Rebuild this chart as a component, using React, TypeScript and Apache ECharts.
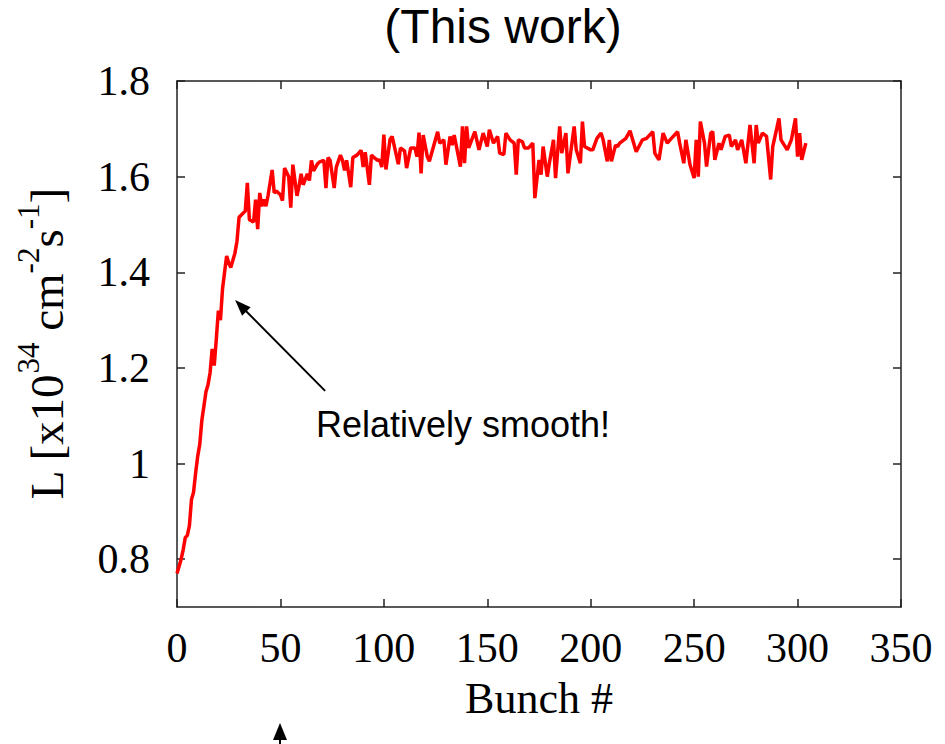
import React, { useEffect, useRef } from "react";
import * as echarts from "echarts";

// Bunch number (x) and luminosity L [x10^34 cm^-2 s^-1] (y)
const bunches: number[] = [
  0, 2, 3, 4, 5, 6, 7, 8, 9, 10, 11, 12, 13, 14, 15, 16, 17, 18, 19, 20,
  21, 22, 23, 24, 25, 26, 28, 29, 30, 33, 34, 35, 37, 38, 39, 40, 41, 42, 43, 44,
  46, 47, 48, 50, 51, 52, 54, 55, 56, 58, 59, 60, 61, 63, 64, 65, 66, 68, 69, 71,
  72, 73, 74, 76, 77, 79, 80, 81, 82, 84, 85, 87, 89, 90, 91, 93, 94, 95, 97, 98,
  99, 100, 101, 103, 104, 105, 107, 108, 110, 111, 113, 115, 116, 117, 118, 119, 121, 122, 124, 126,
  127, 129, 130, 132, 133, 134, 137, 138, 139, 140, 141, 144, 146, 148, 150, 151, 153, 155, 156, 158,
  159, 161, 163, 164, 165, 167, 168, 170, 172, 173, 175, 176, 177, 179, 180, 182, 183, 185, 186, 188,
  189, 192, 193, 195, 196, 197, 200, 201, 203, 205, 206, 208, 209, 210, 212, 213, 214, 217, 219, 222,
  225, 227, 230, 231, 233, 235, 237, 239, 242, 243, 245, 246, 248, 250, 251, 252, 253, 255, 256, 258,
  259, 260, 262, 263, 265, 267, 268, 270, 271, 273, 275, 277, 279, 280, 281, 283, 285, 287, 288, 291,
  292, 295, 297, 299, 300, 301, 302, 304,
];
const luminosity: number[] = [
  0.77, 0.80, 0.82, 0.845, 0.85, 0.87, 0.925, 0.94, 0.98, 1.015, 1.04, 1.09, 1.12, 1.15, 1.165, 1.19, 1.24, 1.205, 1.26, 1.32,
  1.30, 1.365, 1.40, 1.434, 1.42, 1.41, 1.44, 1.465, 1.515, 1.528, 1.587, 1.51, 1.505, 1.552, 1.49, 1.566, 1.538, 1.552, 1.538, 1.56,
  1.614, 1.566, 1.57, 1.562, 1.55, 1.618, 1.60, 1.535, 1.625, 1.56, 1.58, 1.606, 1.583, 1.606, 1.592, 1.634, 1.612, 1.627, 1.631, 1.634,
  1.576, 1.64, 1.634, 1.576, 1.62, 1.645, 1.634, 1.613, 1.634, 1.578, 1.64, 1.645, 1.655, 1.62, 1.651, 1.583, 1.645, 1.641, 1.634, 1.635,
  1.62, 1.688, 1.615, 1.678, 1.684, 1.665, 1.626, 1.66, 1.654, 1.618, 1.66, 1.66, 1.642, 1.692, 1.607, 1.687, 1.642, 1.632, 1.663, 1.694,
  1.67, 1.677, 1.625, 1.684, 1.666, 1.687, 1.621, 1.705, 1.628, 1.705, 1.66, 1.694, 1.656, 1.691, 1.663, 1.698, 1.67, 1.684, 1.649, 1.646,
  1.691, 1.677, 1.67, 1.604, 1.677, 1.673, 1.66, 1.66, 1.67, 1.555, 1.635, 1.604, 1.663, 1.60, 1.628, 1.677, 1.597, 1.705, 1.649, 1.691,
  1.607, 1.705, 1.656, 1.628, 1.715, 1.663, 1.656, 1.656, 1.68, 1.691, 1.677, 1.632, 1.677, 1.632, 1.666, 1.663, 1.67, 1.68, 1.696, 1.652,
  1.677, 1.68, 1.694, 1.649, 1.635, 1.691, 1.67, 1.68, 1.694, 1.67, 1.628, 1.677, 1.625, 1.597, 1.677, 1.60, 1.715, 1.67, 1.621, 1.691,
  1.694, 1.635, 1.67, 1.656, 1.684, 1.687, 1.663, 1.677, 1.656, 1.677, 1.628, 1.708, 1.628, 1.708, 1.67, 1.691, 1.684, 1.594, 1.663, 1.722,
  1.677, 1.656, 1.677, 1.722, 1.642, 1.691, 1.635, 1.67,
];

const xTicks: number[] = [0, 50, 100, 150, 200, 250, 300, 350];
const yTicks: number[] = [0.8, 1.0, 1.2, 1.4, 1.6, 1.8];

const titleText = "(This work)";
const xName = "Bunch #";
const annotationText = "Relatively smooth!";
// annotation arrow: tail and head in data coordinates
const arrowTail: [number, number] = [71.6, 1.152];
const arrowHead: [number, number] = [30.8, 1.33];

const SERIF = "'Liberation Serif', 'Times New Roman', serif";
const SANS = "'Liberation Sans', Arial, sans-serif";

export default function App() {
  const ref = useRef<HTMLDivElement>(null);

  useEffect(() => {
    if (!ref.current) return;
    const chart = echarts.init(ref.current, null, { renderer: "svg" });

    const data = bunches.map((b, i) => [b, luminosity[i]]);
    const axisLine = { show: true, onZero: false, lineStyle: { color: "#222", width: 1.5 } };
    const tick = { show: true, inside: true, length: 8, lineStyle: { color: "#222", width: 1.5 } };

    chart.setOption({
      animation: false,
      backgroundColor: "#ffffff",
      grid: { left: 177, right: 44, top: 81, bottom: 137, containLabel: false, outerBoundsMode: "none" },
      xAxis: [
        {
          type: "value",
          position: "bottom",
          min: 0,
          max: 350,
          interval: 50,
          axisLine,
          axisTick: tick,
          splitLine: { show: false },
          axisLabel: {
            show: true,
            margin: 20,
            fontFamily: SERIF,
            fontSize: 42,
            color: "#000",
            customValues: xTicks,
          },
          name: xName,
          nameLocation: "middle",
          nameGap: 69,
          nameTextStyle: { fontFamily: SERIF, fontSize: 44, color: "#000" },
        },
        {
          type: "value",
          position: "top",
          min: 0,
          max: 350,
          interval: 50,
          axisLine,
          axisTick: tick,
          splitLine: { show: false },
          axisLabel: { show: false },
        },
      ],
      yAxis: [
        {
          type: "value",
          position: "left",
          min: 0.7,
          max: 1.8,
          axisLine,
          axisTick: { ...tick, customValues: yTicks },
          splitLine: { show: false },
          axisLabel: {
            show: true,
            margin: 27,
            fontFamily: SERIF,
            fontSize: 42,
            color: "#000",
            customValues: yTicks,
            formatter: (v: number) => String(Number(v.toFixed(1))),
          },
          name: "{a|L [x10}{b|34}{a| cm}{b|-2}{a|s}{b|-1}{a|]}",
          nameLocation: "middle",
          nameRotate: 90,
          nameGap: 107,
          nameTextStyle: {
            rich: {
              a: { fontFamily: SERIF, fontSize: 47, lineHeight: 47, color: "#000", verticalAlign: "bottom" },
              b: { fontFamily: SERIF, fontSize: 31, color: "#000", verticalAlign: "top", padding: [0, 0, 26, 0] },
            },
          },
        },
        {
          type: "value",
          position: "right",
          min: 0.7,
          max: 1.8,
          axisLine,
          axisTick: { ...tick, customValues: yTicks },
          splitLine: { show: false },
          axisLabel: { show: false },
        },
      ],
      series: [
        {
          type: "line",
          xAxisIndex: 0,
          yAxisIndex: 0,
          data,
          showSymbol: false,
          symbol: "none",
          lineStyle: { color: "#ff0000", width: 3.5 },
          z: 3,
          markLine: {
            silent: true,
            animation: false,
            symbol: ["none", "triangle"],
            symbolSize: [12, 16],
            label: { show: false },
            lineStyle: { color: "#000", width: 2, type: "solid" },
            data: [[{ coord: arrowTail }, { coord: arrowHead }]],
          },
        },
      ],
      graphic: [
        {
          type: "text",
          x: 503,
          y: 26,
          style: {
            text: titleText,
            fontFamily: SANS,
            fontSize: 48,
            fill: "#000",
            align: "center",
            verticalAlign: "middle",
          },
        },
        {
          type: "text",
          x: 316,
          y: 424,
          style: {
            text: annotationText,
            fontFamily: SANS,
            fontSize: 36,
            fill: "#000",
            align: "left",
            verticalAlign: "middle",
          },
        },
        {
          type: "line",
          shape: { x1: 280, y1: 736, x2: 280, y2: 744 },
          style: { stroke: "#000", lineWidth: 2 },
        },
        {
          type: "polygon",
          shape: { points: [[280, 723], [273, 740], [287, 740]] },
          style: { fill: "#000" },
        },
      ],
    });

    return () => chart.dispose();
  }, []);

  return (
    <div
      ref={ref}
      style={{ position: "fixed", left: 0, top: 0, width: 945, height: 744, background: "#fff" }}
    />
  );
}
